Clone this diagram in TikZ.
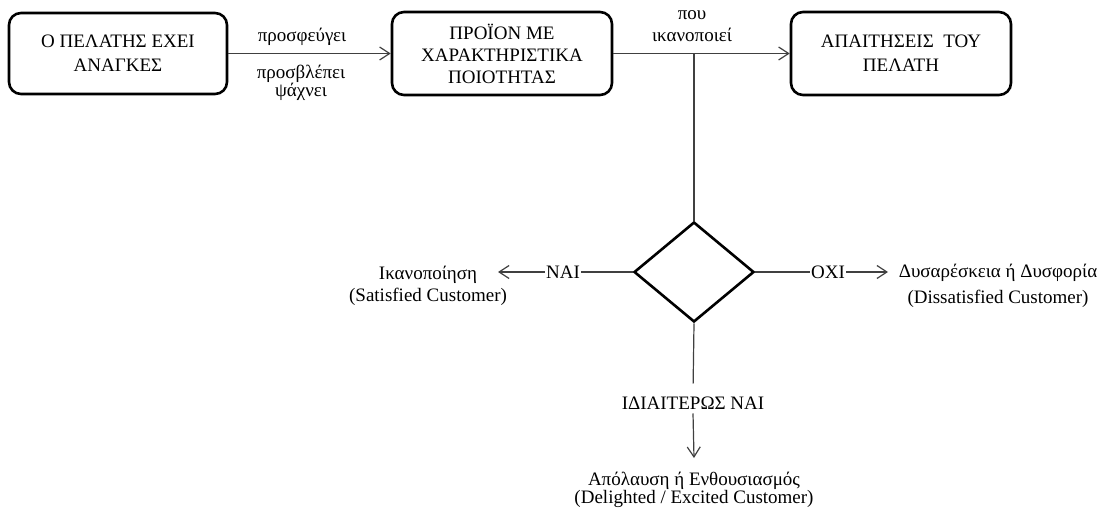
\documentclass[tikz,border=0pt]{standalone}
\usepackage{fontspec}
\setmainfont{Liberation Serif}
\usetikzlibrary{shapes.geometric,arrows.meta}
\tikzset{
  box/.style={draw, line width=2.6pt, rounded corners=12pt, align=center, inner sep=0pt},
  lbl/.style={align=center, inner sep=1pt},
  conn/.style={draw=black!75, line width=1.2pt},
  arr/.style={conn, -{Straight Barb[length=10pt,width=13pt,line width=1.2pt]}},
  dec/.style={draw, diamond, line width=2.6pt, minimum width=120pt, minimum height=100pt, inner sep=0pt}
}
\begin{document}
\begin{tikzpicture}[x=1pt,y=-1pt, font=\fontsize{19}{22}\selectfont]
\useasboundingbox (0,0) rectangle (1107,513);
% boxes
\node[box, minimum width=218pt, minimum height=81pt, font=\fontsize{19}{24}\selectfont] (b1) at (118,53.5) {Ο ΠΕΛΑΤΗΣ ΕΧΕΙ\\ΑΝΑΓΚΕΣ};
\node[box, minimum width=220pt, minimum height=83pt, font=\fontsize{19}{22}\selectfont] (b2) at (502,53.5) {ΠΡΟΪΟΝ ΜΕ\\ΧΑΡΑΚΤΗΡΙΣΤΙΚΑ\\ΠΟΙΟΤΗΤΑΣ};
\node[box, minimum width=220pt, minimum height=83pt, font=\fontsize{19}{24}\selectfont] (b3) at (901,53.5) {ΑΠΑΙΤΗΣΕΙΣ\ \ ΤΟΥ\\ΠΕΛΑΤΗ};
% top arrows and labels
\draw[arr] (b1) -- (b2);
\draw[arr] (b2) -- (b3);
\node[lbl] (l1) at (302,37) {προσφεύγει};
\node[lbl, font=\fontsize{19}{18}\selectfont] (l2) at (301,82.5) {προσβλέπει\\ψάχνει};
\node[lbl, font=\fontsize{19}{22}\selectfont] (l3) at (692,26) {που\\ικανοποιεί};
\coordinate (j) at (694,53.5);
% diamond
\node[dec] (d) at (694,272) {};
\draw[conn] (j) -- (d.north);
% left branch
\node[lbl] (nai) at (563,272) {ΝΑΙ};
\coordinate (sa) at (498,272);
\draw[conn] (d.west) -- (nai.east);
\draw[arr] (nai.west) -- (sa);
\node[lbl, font=\fontsize{19}{22}\selectfont] (sat) at (428,286) {Ικανοποίηση\\(Satisfied Customer)};
% right branch
\node[lbl] (oxi) at (828,272) {ΟΧΙ};
\coordinate (da) at (888,272);
\draw[conn] (d.east) -- (oxi.west);
\draw[arr] (oxi.east) -- (da);
\node[lbl, font=\fontsize{19}{26}\selectfont] (dis) at (998,286) {Δυσαρέσκεια ή Δυσφορία\\(Dissatisfied Customer)};
% bottom branch
\node[lbl, inner sep=4pt] (id) at (693,403) {ΙΔΙΑΙΤΕΡΩΣ ΝΑΙ};
\coordinate (de) at (694,458);
\draw[conn, shorten >=9pt] (d.south) -- (id.north);
\draw[arr] (id.south) -- (de);
\node[lbl, font=\fontsize{19}{18}\selectfont] (del) at (694,490) {Απόλαυση ή Ενθουσιασμός\\(Delighted / Excited Customer)};
\end{tikzpicture}
\end{document}
